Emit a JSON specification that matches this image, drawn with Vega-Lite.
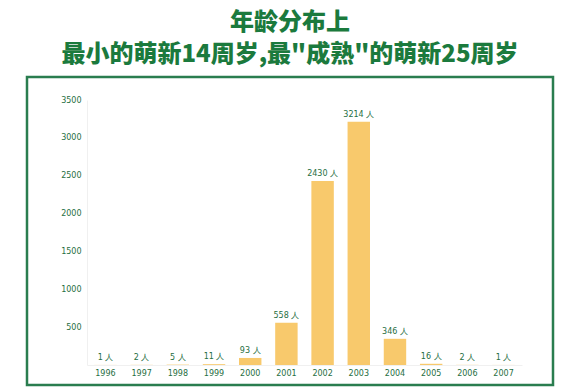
{
  "$schema": "https://vega.github.io/schema/vega-lite/v6.json",
  "autosize": "none",
  "width": 526,
  "height": 308,
  "padding": {"left": 27, "top": 77, "right": 8, "bottom": 3},
  "background": "white",
  "title": {
    "text": "年龄分布上",
    "subtitle": "最小的萌新14周岁,最\"成熟\"的萌新25周岁",
    "font": "Noto Sans CJK SC",
    "fontWeight": 900,
    "fontSize": 24,
    "color": "#1b7a3d",
    "subtitleFont": "Noto Sans CJK SC",
    "subtitleFontWeight": 900,
    "subtitleFontSize": 24,
    "subtitleColor": "#1b7a3d",
    "subtitlePadding": 8,
    "anchor": "middle",
    "frame": "group",
    "offset": 10
  },
  "config": {
    "view": {"stroke": "#2a7d4f", "strokeWidth": 2.5},
    "axis": {"grid": false, "ticks": false, "domainColor": "#f0f0f0", "labelColor": "#1f6e42", "labelFont": "DejaVu Sans", "labelFontSize": 8, "title": null}
  },
  "data": {
    "values": [
      {"year": "1996", "count": 1, "label": "1 人"},
      {"year": "1997", "count": 2, "label": "2 人"},
      {"year": "1998", "count": 5, "label": "5 人"},
      {"year": "1999", "count": 11, "label": "11 人"},
      {"year": "2000", "count": 93, "label": "93 人"},
      {"year": "2001", "count": 558, "label": "558 人"},
      {"year": "2002", "count": 2430, "label": "2430 人"},
      {"year": "2003", "count": 3214, "label": "3214 人"},
      {"year": "2004", "count": 346, "label": "346 人"},
      {"year": "2005", "count": 16, "label": "16 人"},
      {"year": "2006", "count": 2, "label": "2 人"},
      {"year": "2007", "count": 1, "label": "1 人"}
    ]
  },
  "encoding": {
    "x": {
      "field": "year", "type": "ordinal",
      "scale": {"range": [60, 495], "paddingInner": 0.38, "paddingOuter": 0.2},
      "axis": {"labelAngle": 0, "offset": -20, "labelPadding": 4}
    },
    "y": {
      "field": "count", "type": "quantitative",
      "scale": {"domain": [0, 3500], "range": [288, 23], "nice": false},
      "axis": {"values": [500, 1000, 1500, 2000, 2500, 3000, 3500], "format": "d", "offset": -60, "labelPadding": 6}
    }
  },
  "layer": [
    {"mark": {"type": "bar", "color": "#f8c96c"}},
    {
      "mark": {"type": "text", "baseline": "bottom", "dy": -3, "font": "DejaVu Sans", "fontSize": 8, "fontWeight": "normal", "color": "#1f6e42"},
      "encoding": {"text": {"field": "label"}}
    }
  ]
}
